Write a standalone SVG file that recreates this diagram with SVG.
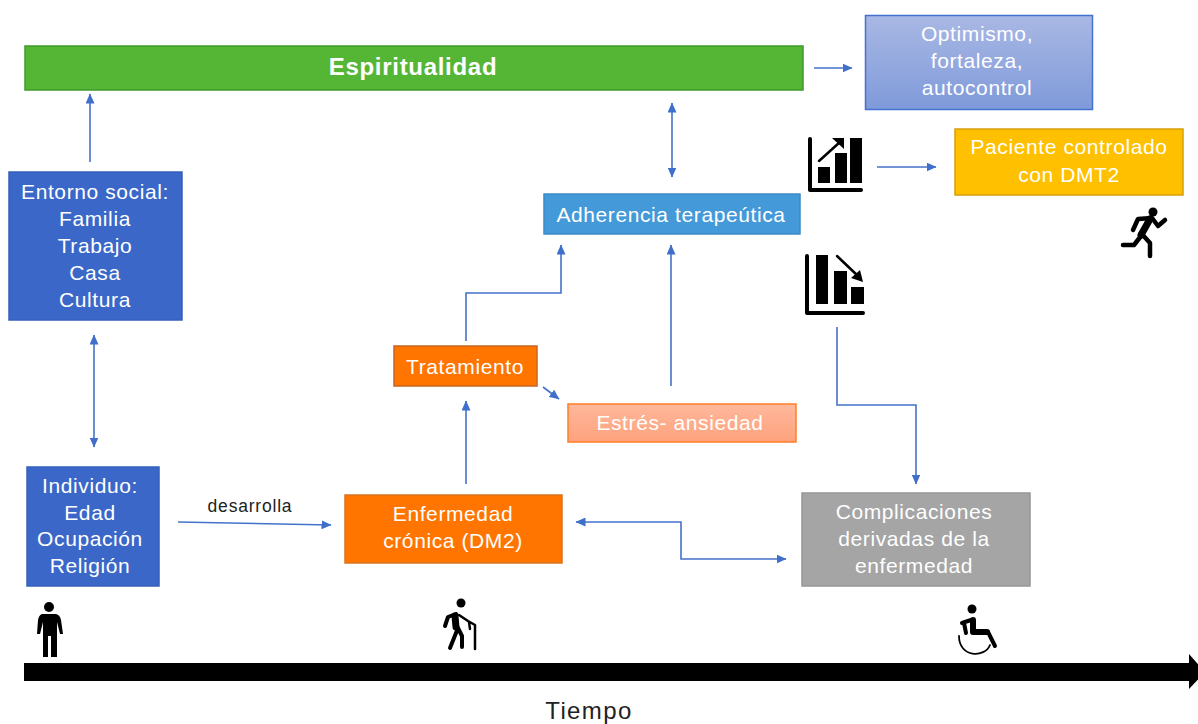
<svg xmlns="http://www.w3.org/2000/svg" width="1198" height="724" viewBox="0 0 1198 724">
<style>
text{font-family:"Liberation Sans",Arial,sans-serif;font-size:21px;letter-spacing:.6px;fill:#fff;text-anchor:middle}
.c{fill:none;stroke:#4472c9;stroke-width:1.6}
.ic{fill:#000;stroke:none}
.il{fill:none;stroke:#000;stroke-linecap:round;stroke-linejoin:round}
</style>
<defs>
<marker id="a" markerWidth="11" markerHeight="9" refX="9.500" refY="4.500" orient="auto-start-reverse" markerUnits="userSpaceOnUse"><path d="M0 0L10 4.500L0 9z" fill="#3f6fcb"/></marker>
<linearGradient id="g1" x1="0" y1="0" x2="0" y2="1"><stop offset="0" stop-color="#a9b8e4"/><stop offset="1" stop-color="#7f9ada"/></linearGradient>
<linearGradient id="g2" x1="0" y1="0" x2="0" y2="1"><stop offset="0" stop-color="#feb89c"/><stop offset="1" stop-color="#fea27c"/></linearGradient>
</defs>
<g id="connectors">
<path class="c" marker-end="url(#a)" d="M814 68H852"/>
<path class="c" marker-end="url(#a)" d="M90 162V94"/>
<path class="c" marker-start="url(#a)" marker-end="url(#a)" d="M94 335V447"/>
<path class="c" marker-start="url(#a)" marker-end="url(#a)" d="M672 103V177"/>
<path class="c" marker-end="url(#a)" d="M877 167H936"/>
<path class="c" marker-end="url(#a)" d="M178 522L331 525"/>
<path class="c" marker-end="url(#a)" d="M466 484V401"/>
<path class="c" marker-end="url(#a)" d="M466 341V293H561V245"/>
<path class="c" marker-end="url(#a)" d="M543 387L559 399"/>
<path class="c" marker-end="url(#a)" d="M671 386V245"/>
<path class="c" marker-end="url(#a)" d="M837 327V405H916V484"/>
<path class="c" marker-start="url(#a)" marker-end="url(#a)" d="M576 522H681V559H786"/>
</g>
<g id="n-espiritualidad"><rect x="25" y="46" width="778" height="44" fill="#55b535" stroke="#3f9a2b" stroke-width="1.5"/><text x="413" y="75" font-weight="bold" style="font-size:24px;letter-spacing:.7px">Espiritualidad</text></g>
<g id="n-optimismo"><rect x="865.500" y="15.500" width="227" height="94" fill="url(#g1)" stroke="#4472d0" stroke-width="1.5"/><text x="977" y="41">Optimismo,</text><text x="977" y="68">fortaleza,</text><text x="977" y="95">autocontrol</text></g>
<g id="n-paciente"><rect x="955" y="129" width="228" height="66" fill="#ffc000" stroke="#d69f0a" stroke-width="1.5"/><text x="1069" y="154">Paciente controlado</text><text x="1069" y="182">con DMT2</text></g>
<g id="n-entorno"><rect x="9" y="172" width="173" height="148" fill="#3b68c8" stroke="#3460b8" stroke-width="1.5"/><text x="95" y="199">Entorno social:</text><text x="95" y="226">Familia</text><text x="95" y="253">Trabajo</text><text x="95" y="280">Casa</text><text x="95" y="307">Cultura</text></g>
<g id="n-adherencia"><rect x="544" y="194" width="256" height="40" fill="#4499d9" stroke="#3c8ac6" stroke-width="1.5"/><text x="671" y="222">Adherencia terapeútica</text></g>
<g id="n-tratamiento"><rect x="394" y="346" width="143" height="40" fill="#ff7500" stroke="#c8651e" stroke-width="1.5"/><text x="465" y="374">Tratamiento</text></g>
<g id="n-estres"><rect x="568" y="404" width="228" height="38" fill="url(#g2)" stroke="#ff7f27" stroke-width="1.5"/><text x="680" y="430">Estrés- ansiedad</text></g>
<g id="n-individuo"><rect x="27" y="467" width="132" height="119" fill="#3b68c8" stroke="#3460b8" stroke-width="1.5"/><text x="90" y="493">Individuo:</text><text x="90" y="520">Edad</text><text x="90" y="546">Ocupación</text><text x="90" y="573">Religión</text></g>
<g id="n-enfermedad"><rect x="345" y="495" width="217" height="68" fill="#ff7500" stroke="#d9741e" stroke-width="1.5"/><text x="453" y="521">Enfermedad</text><text x="453" y="548">crónica (DM2)</text></g>
<g id="n-complicaciones"><rect x="802" y="493" width="228" height="93" fill="#a5a5a5" stroke="#969696" stroke-width="1.5"/><text x="914" y="519">Complicaciones</text><text x="914" y="546">derivadas de la</text><text x="914" y="573">enfermedad</text></g>
<text x="250" y="512" style="fill:#222;font-size:17.500px;letter-spacing:.8px">desarrolla</text>
<g id="icon-chart-up">
<path class="il" stroke-width="4" d="M810 139V190H861"/>
<rect class="ic" x="818" y="167" width="12" height="16"/><rect class="ic" x="835" y="153" width="12" height="30"/><rect class="ic" x="850" y="138" width="12" height="45"/>
<path class="il" stroke-width="2.500" d="M819 161L840 142"/><path class="ic" d="M832 138H844V149z"/>
</g>
<g id="icon-chart-down">
<path class="il" stroke-width="4" d="M807 256V313H863"/>
<rect class="ic" x="816" y="255" width="12" height="49"/><rect class="ic" x="834" y="271" width="13" height="33"/><rect class="ic" x="851" y="287" width="13" height="17"/>
<path class="il" stroke-width="2.500" d="M837 256L858 276"/><path class="ic" d="M863 282L851 278L860 270z"/>
</g>
<g id="icon-runner">
<circle class="ic" cx="1153" cy="212" r="4.500"/>
<path class="il" stroke-width="4.500" d="M1133 230L1138 219L1152 218L1158 226L1165 220"/>
<path class="il" stroke-width="7" d="M1150 219L1141 235"/>
<path class="il" stroke-width="4.500" d="M1141 233L1150 243V256M1141 236L1134 245H1123"/>
</g>
<g id="icon-person">
<circle class="ic" cx="49" cy="607" r="5"/>
<path class="ic" d="M42 614H56Q60 615 61 620L63 634H60L57 622V657H51V636H48V657H43V622L40 634H37L38 620Q39 615 42 614z"/>
</g>
<g id="icon-elder">
<circle class="ic" cx="461" cy="603" r="4.500"/>
<path class="il" stroke-width="4" d="M456 614L448 617L445 626M458 628L450 648M458 628L462 636L462 647"/>
<path class="il" stroke-width="7" d="M455 616L456 627"/>
<path class="il" stroke-width="2.500" d="M459 615L468 621L475 625V649M469 622L470 629"/>
</g>
<g id="icon-wheelchair">
<circle class="ic" cx="972" cy="609" r="4.500"/>
<path class="il" stroke-width="4" d="M962 623L971 620M988 632L995 646M964 623L966 633"/>
<path class="il" stroke-width="6" d="M973 620V632H987"/>
<path class="il" stroke-width="1.800" d="M959 636C959 658 985 658 990 645"/>
</g>
<g id="timeline"><path class="ic" d="M24 663H1189V654L1205 672L1189 689V681H24z"/></g>
<text x="589" y="719" style="fill:#222;font-size:24px;letter-spacing:1.400px">Tiempo</text>
</svg>
